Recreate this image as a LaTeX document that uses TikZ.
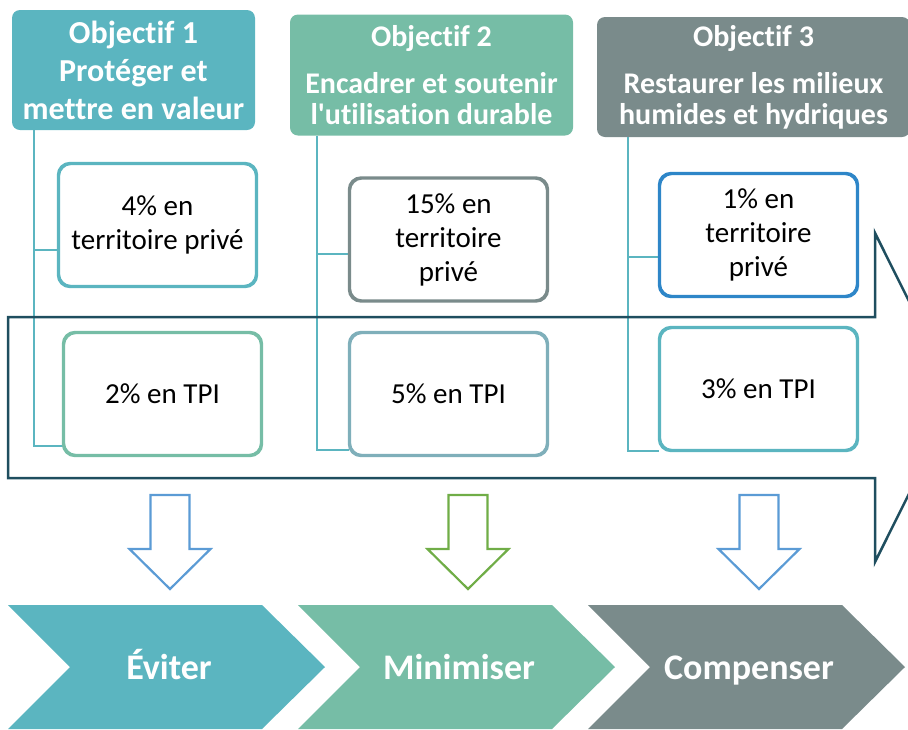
\documentclass[tikz,border=0pt]{standalone}
\usepackage{fontspec}
\setmainfont{Carlito}[Ligatures=NoCommon]
\definecolor{obj-teal}{RGB}{91,181,192}
\definecolor{obj-green}{RGB}{118,189,166}
\definecolor{obj-grey}{RGB}{122,139,139}
\definecolor{flow-dark}{RGB}{31,78,95}
\definecolor{arrow-blue}{RGB}{91,155,213}
\definecolor{arrow-green}{RGB}{112,173,71}
\definecolor{box-blue}{RGB}{46,134,200}
\definecolor{box-slate}{RGB}{127,175,186}
\usetikzlibrary{calc}
\usetikzlibrary{positioning}

\begin{document}
\begin{tikzpicture}[%
            x=1pt,y=-1pt,
            objective/.style={%
              rounded corners=8pt,fill=#1,text=white,inner sep=0pt,
              align=center,font=\bfseries\fontsize{30}{31}\selectfont
            },
            share/.style={%
              draw=#1,line width=2.2pt,rounded corners=12pt,fill=white,
              minimum width=197pt,minimum height=122pt,inner sep=0pt,
              align=center,font=\fontsize{29}{34}\selectfont
            },
            link/.style={obj-teal,line width=2pt},
            stage/.style={text=white,anchor=base,font=\bfseries\fontsize{36}{40}\selectfont},
            downarrow/.pic={%
              \draw [#1,line width=2.2pt,line join=miter] (-19.5,0)
                -- (19.5,0)
                -- (19.5,54)
                -- (40.5,54)
                -- (0,94)
                -- (-40.5,54)
                -- (-19.5,54)
                -- cycle;
            }
          ]
            \useasboundingbox (0,0) rectangle (908,729);

            \node [objective=obj-teal,minimum width=243pt,minimum height=120pt,
                   font=\bfseries\fontsize{32}{38}\selectfont] (obj1) at (133.5,70)
              {Objectif 1\\Protéger et\\mettre en valeur};
            \node [objective=obj-green,minimum width=283pt,minimum height=121pt] (obj2) at (431.5,75)
              {Objectif 2\\[16pt]Encadrer et soutenir\\l\textquotesingle utilisation durable};
            \node [objective=obj-grey,minimum width=313pt,minimum height=120pt] (obj3) at (753.5,77)
              {Objectif 3\\[16pt]Restaurer les milieux\\humides et hydriques};

            \coordinate (s1) at ([xshift=22pt]obj1.south west);
            \coordinate (s2) at ([xshift=27pt]obj2.south west);
            \coordinate (s3) at ([xshift=31pt]obj3.south west);

            \node [share=obj-teal] (prive1) at (157.5,225) {4\% en\\territoire privé};
            \node [share=obj-grey] (prive2) at (448.5,239.5) {15\% en\\territoire\\privé};
            \node [share=box-blue] (prive3) at (758.5,235) {1\% en\\territoire\\privé};

            \node [share=obj-green] (tpi1) at (162.5,394) {2\% en TPI};
            \node [share=box-slate] (tpi2) at (448.5,394) {5\% en TPI};
            \node [share=obj-teal] (tpi3) at (758.5,389) {3\% en TPI};

            % connectors behind the boxes
            \begin{scope}[on background layer/.try]
              \draw [link] (s1) |- ([yshift=10pt]tpi1.south west);
              \draw [link] (s2) |- ([yshift=6pt]tpi2.south west);
              \draw [link] (s3) |- (tpi3.south west);
              \draw [link] ([yshift=-25pt]prive1.west) -- ([yshift=-25pt]prive1.west -| s1);
              \draw [link] ([yshift=-14.5pt]prive2.west) -- ([yshift=-14.5pt]prive2.west -| s2);
              \draw [link] ([yshift=-22pt]prive3.west) -- ([yshift=-22pt]prive3.west -| s3);
            \end{scope}

            \draw [flow-dark,line width=2.5pt,line join=miter] (8,317)
              -- (875,317)
              -- (875,233)
              -- (957,397.5)
              -- (875,562)
              -- (875,478)
              -- (8,478)
              -- cycle;

            % redraw the boxes over the flow arrow
            \foreach \n/\c in {prive1/obj-teal,prive2/obj-grey,prive3/box-blue,tpi1/obj-green,tpi2/box-slate,tpi3/obj-teal}
              \draw [\c,line width=2.2pt,rounded corners=12pt] (\n.south west) rectangle (\n.north east);

            \pic at (170,495) {downarrow=arrow-blue};
            \pic at (468,495) {downarrow=arrow-green};
            \pic at (759,495) {downarrow=arrow-blue};

            \foreach \c/\x/\t [count=\i] in {obj-teal/8/Éviter,obj-green/298/Minimiser,obj-grey/588/Compenser} {%
              \fill [\c] (\x,605)
                -- (\x+254,605)
                -- (\x+317,667)
                -- (\x+254,729)
                -- (\x,729)
                -- (\x+62,667)
                -- cycle;
              \node [stage] (stage\i) at (\x+161,679) {\t};
            }
          \end{tikzpicture}
\end{document}
